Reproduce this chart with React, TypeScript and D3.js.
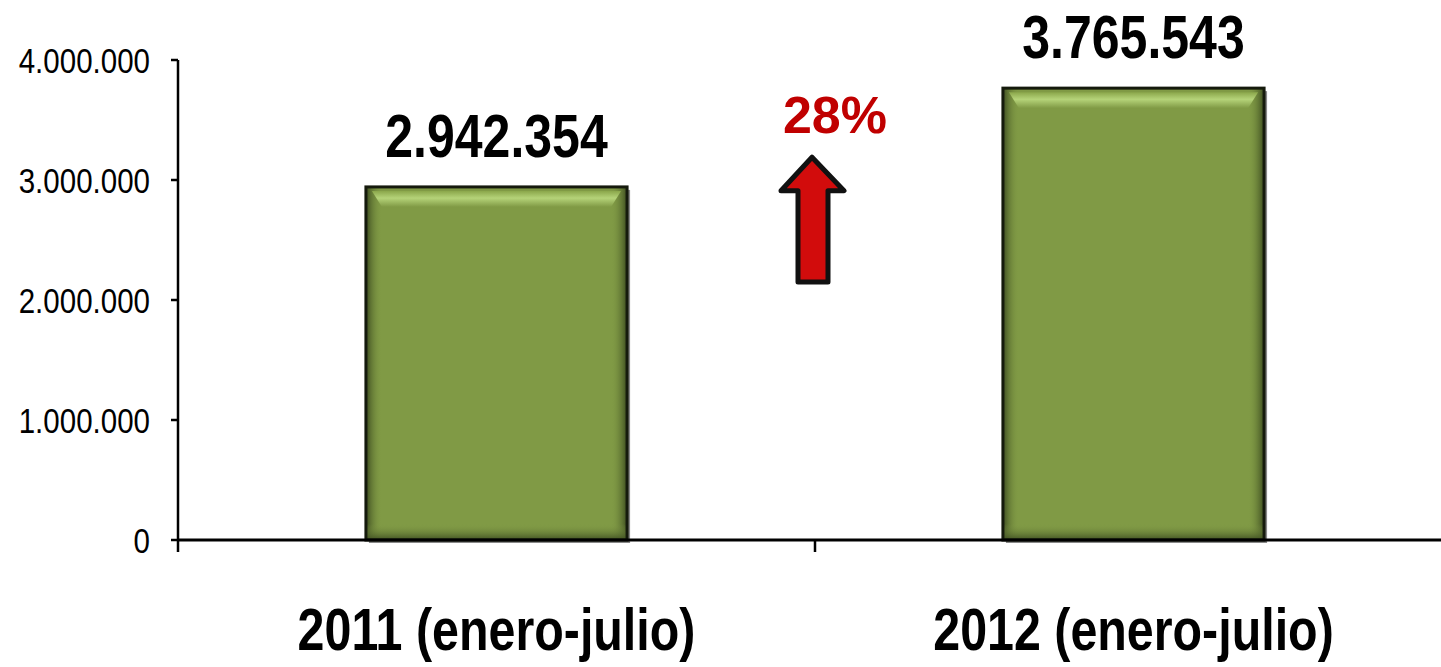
import React from 'react';
import * as d3 from 'd3';

// datos del gráfico
const categories = ['2011 (enero-julio)', '2012 (enero-julio)'];
const values = [2942354, 3765543];
const valueLabels = ['2.942.354', '3.765.543'];
const yTicks = [0, 1000000, 2000000, 3000000, 4000000];
const yTickLabels = ['0', '1.000.000', '2.000.000', '3.000.000', '4.000.000'];
const growthLabel = '28%';

const W = 1441;
const H = 667;
const margin = { left: 178, right: -11, top: 60, bottom: 127 };
const NARROW = 0.82; // no hay Arial Narrow: se estrecha a mano

const App: React.FC = () => {
  const x = d3
    .scaleBand<string>()
    .domain(categories)
    .range([margin.left, W - margin.right])
    .paddingInner(0.59)
    .paddingOuter(0.295);
  const y = d3.scaleLinear().domain([0, 4000000]).range([H - margin.bottom, margin.top]);
  const y0 = y(0);
  const bw = x.bandwidth();
  const step = x.step();
  const mid = margin.left + (W - margin.right - margin.left) / 2;

  // flecha entre barras (en unidades de datos)
  const aTip = y(3190000);
  const aHead = y(2910000);
  const aBot = y(2150000);
  const arrow = [
    [mid - 3, aTip],
    [mid + 29, aHead],
    [mid + 13, aHead],
    [mid + 13, aBot],
    [mid - 17, aBot],
    [mid - 17, aHead],
    [mid - 34, aHead],
  ];

  return (
    <svg width={W} height={H} style={{ position: 'absolute', left: 0, top: 0 }} fontFamily="'Liberation Sans', Arial, sans-serif">
      <defs>
        <linearGradient id="sideL" x1="0" x2="1" y1="0" y2="0">
          <stop offset="0" stopColor="#3b4a1f" />
          <stop offset="1" stopColor="#809a45" stopOpacity="0" />
        </linearGradient>
        <linearGradient id="sideR" x1="1" x2="0" y1="0" y2="0">
          <stop offset="0" stopColor="#3b4a1f" />
          <stop offset="1" stopColor="#809a45" stopOpacity="0" />
        </linearGradient>
        <linearGradient id="bottom" x1="0" x2="0" y1="1" y2="0">
          <stop offset="0" stopColor="#3f4f22" />
          <stop offset="1" stopColor="#809a45" stopOpacity="0" />
        </linearGradient>
        <linearGradient id="topHi" x1="0" x2="0" y1="0" y2="1">
          <stop offset="0" stopColor="#8aa64a" />
          <stop offset="0.45" stopColor="#b5d379" />
          <stop offset="1" stopColor="#809a45" />
        </linearGradient>
      </defs>

      {/* eje Y */}
      <line x1={margin.left} x2={margin.left} y1={y(4000000)} y2={y0 + 12} stroke="#000" strokeWidth={2.5} />
      {yTicks.map((t, i) => (
        <g key={t}>
          <line x1={margin.left - 7} x2={margin.left} y1={y(t)} y2={y(t)} stroke="#000" strokeWidth={2.5} />
          <text
            transform={`translate(150,${y(t)}) scale(${NARROW},1)`}
            dy="0.36em"
            textAnchor="end"
            fontSize={36}
            fill="#000"
          >
            {yTickLabels[i]}
          </text>
        </g>
      ))}

      {/* barras */}
      {categories.map((c, i) => {
        const bx = x(c)!;
        const by = y(values[i]);
        const bh = y0 - by;
        return (
          <g key={c}>
            <rect x={bx + 3} y={by + 3} width={bw} height={bh} fill="#8a8a8a" />
            <rect x={bx} y={by} width={bw} height={bh} fill="#809a45" />
            <rect x={bx} y={by} width={16} height={bh} fill="url(#sideL)" />
            <rect x={bx + bw - 16} y={by} width={16} height={bh} fill="url(#sideR)" />
            <rect x={bx} y={y0 - 16} width={bw} height={16} fill="url(#bottom)" />
            <polygon
              points={`${bx + 6},${by + 4} ${bx + bw - 6},${by + 4} ${bx + bw - 16},${by + 20} ${bx + 16},${by + 20}`}
              fill="url(#topHi)"
            />
            <rect x={bx} y={by} width={bw} height={bh} fill="none" stroke="#151a0c" strokeWidth={3} />
            <text
              transform={`translate(${bx + bw / 2},${by - 30}) scale(${NARROW},1)`}
              textAnchor="middle"
              fontSize={61}
              fontWeight="bold"
              fill="#000"
            >
              {valueLabels[i]}
            </text>
            <text
              transform={`translate(${bx + bw / 2},${H - 17}) scale(${NARROW},1)`}
              textAnchor="middle"
              fontSize={59}
              fontWeight="bold"
              fill="#000"
            >
              {c}
            </text>
          </g>
        );
      })}

      {/* eje X */}
      <line x1={margin.left} x2={W} y1={y0} y2={y0} stroke="#000" strokeWidth={3} />
      <line x1={margin.left + step} x2={margin.left + step} y1={y0} y2={y0 + 12} stroke="#000" strokeWidth={2.5} />

      {/* variación */}
      <polygon points={arrow.map((p) => p.join(',')).join(' ')} fill="#d20c0c" stroke="#111" strokeWidth={5} strokeLinejoin="round" />
      <text x={mid + 20} y={y(3390000)} textAnchor="middle" fontSize={52} fontWeight="bold" fill="#c00000">
        {growthLabel}
      </text>
    </svg>
  );
};

export default App;
